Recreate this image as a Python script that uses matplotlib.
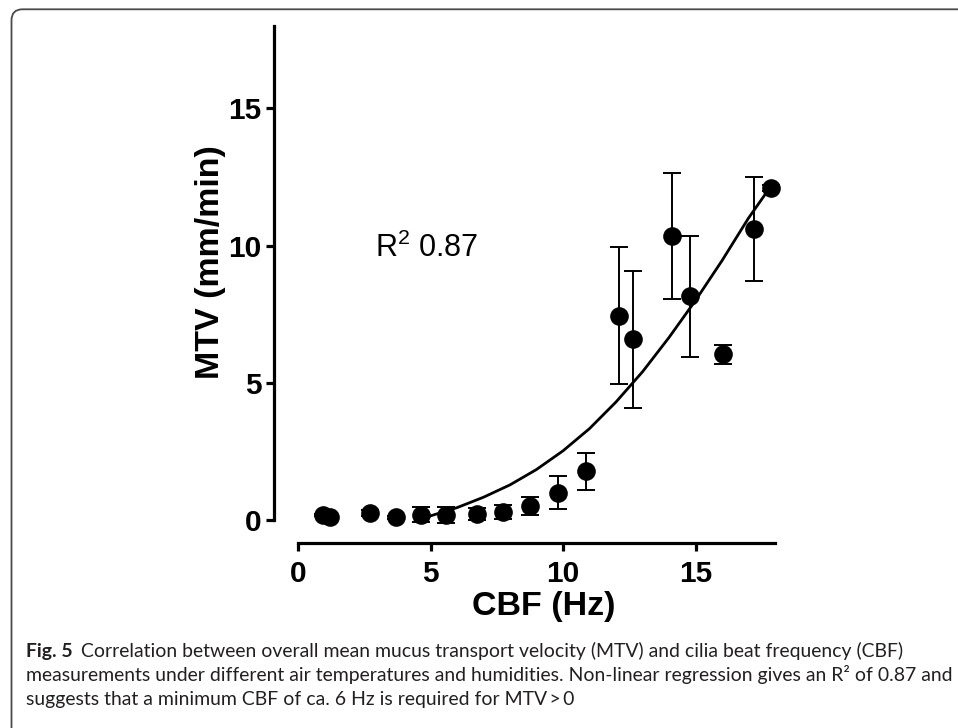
import matplotlib
matplotlib.use("Agg")
import matplotlib.pyplot as plt
from matplotlib.patches import FancyBboxPatch
from matplotlib.transforms import IdentityTransform
from matplotlib import font_manager

# ---- data ----
cbf = [0.94, 1.2, 2.7, 3.7, 4.65, 5.6, 6.75, 7.75, 8.75, 9.8, 10.85,
       12.1, 12.65, 14.1, 14.8, 16.05, 17.2, 17.85]
mtv = [0.18, 0.12, 0.25, 0.1, 0.2, 0.18, 0.22, 0.3, 0.52, 1.0, 1.78,
       7.45, 6.58, 10.36, 8.15, 6.04, 10.6, 12.1]
mtv_err = [0.05, 0.05, 0.1, 0.05, 0.28, 0.28, 0.22, 0.26, 0.33, 0.6, 0.67,
           2.5, 2.5, 2.3, 2.2, 0.35, 1.9, 0.1]

fit_x = [4.5, 5.0, 6.0, 7.0, 8.0, 9.0, 10.0, 11.0, 12.0, 13.0, 14.0,
         15.0, 16.0, 17.0, 17.8]
fit_y = [0.05, 0.15, 0.45, 0.83, 1.28, 1.84, 2.52, 3.33, 4.3, 5.4, 6.65,
         8.0, 9.45, 11.0, 12.1]

x_ticks = [0, 5, 10, 15]
y_ticks = [0, 5, 10, 15]
x_label = "CBF (Hz)"
y_label = "MTV (mm/min)"
r2_text = "R$^2$ 0.87"

caption_bold = "Fig. 5"
caption_lines = [
    "Correlation between overall mean mucus transport velocity (MTV) and cilia beat frequency (CBF)",
    "measurements under different air temperatures and humidities. Non-linear regression gives an R\u00b2 of 0.87 and",
    "suggests that a minimum CBF of ca. 6 Hz is required for MTV\u2009>\u20090",
]

W, H = 958, 728
plt.rcParams['font.family'] = ['Liberation Sans', 'DejaVu Sans']
plt.rcParams['mathtext.fontset'] = 'custom'
plt.rcParams['mathtext.rm'] = 'Liberation Sans'

installed = {f.name for f in font_manager.fontManager.ttflist}
cap_main = next((n for n in ['Liberation Sans Narrow', 'Lato', 'Noto Sans']
                 if n in installed), 'DejaVu Sans')
cap_font = [cap_main, 'DejaVu Sans']

fig = plt.figure(figsize=(W / 100, H / 100), dpi=100)
fig.patch.set_facecolor('white')

# axes placement (pixels from top-left)
ax_l, ax_r, ax_t, ax_b = 298, 775, 26, 520
ax = fig.add_axes([ax_l / W, (H - ax_b) / H, (ax_r - ax_l) / W, (ax_b - ax_t) / H])
ax.set_xlim(0, 18)
ax.set_ylim(0, 18)

ax.plot(fit_x, fit_y, color='black', lw=2.0, zorder=2, clip_on=False)
ax.errorbar(cbf, mtv, yerr=mtv_err, fmt='none', ecolor='black', elinewidth=1.4,
            capsize=6.2, capthick=1.4, zorder=3, clip_on=False)
ax.plot(cbf, mtv, 'o', color='black', markersize=12.4, zorder=4, clip_on=False)

for s in ['top', 'right']:
    ax.spines[s].set_visible(False)
ax.spines['left'].set_position(('outward', 17.3))
ax.spines['bottom'].set_position(('outward', 16.6))
ax.spines['left'].set_linewidth(2.3)
ax.spines['bottom'].set_linewidth(2.3)
ax.spines['left'].set_bounds(0, 18)
ax.spines['bottom'].set_bounds(0, 18)

ax.set_xticks(x_ticks)
ax.set_yticks(y_ticks)
ax.tick_params(axis='both', length=6, width=2.3, labelsize=21.5)
ax.tick_params(axis='y', pad=3)
ax.tick_params(axis='x', pad=6)
for lab in ax.get_xticklabels() + ax.get_yticklabels():
    lab.set_fontweight('bold')

ax.set_xlabel(x_label, fontsize=24.5, fontweight='bold')
ax.set_ylabel(y_label, fontsize=24.5, fontweight='bold')
ax.xaxis.set_label_coords((544 - ax_l) / (ax_r - ax_l), (H - 607 - (H - ax_b)) / (ax_b - ax_t))
ax.xaxis.label.set_va('center')
ax.yaxis.set_label_coords((210 - ax_l) / (ax_r - ax_l), (H - 262 - (H - ax_b)) / (ax_b - ax_t))
ax.yaxis.label.set_va('center')

ax.text(2.91, 9.9, r2_text, fontsize=22, va='center', ha='left')

# frame around the figure
frame = FancyBboxPatch((11.5, -60), 1100, (H - 9.3) + 60,
                       boxstyle="round,pad=0,rounding_size=11",
                       transform=IdentityTransform(), facecolor='none',
                       edgecolor='#4a4a4a', linewidth=1.3, zorder=0)
fig.add_artist(frame)

# caption
cap_color = '#231f20'
fig.canvas.draw()
renderer = fig.canvas.get_renderer()

fs = 13.0
probe = fig.text(26 / W, 0.5, caption_lines[1], fontsize=fs, family=cap_font)
wpx = probe.get_window_extent(renderer).width
probe.remove()
fs = fs * (924.0 / wpx)

baselines = [657, 681, 705]
tb = fig.text(26 / W, (H - baselines[0]) / H, caption_bold, fontsize=fs,
              fontweight='bold', family=cap_font, va='baseline', color=cap_color)
bw = tb.get_window_extent(renderer).width
fig.text((26 + bw + 8) / W, (H - baselines[0]) / H, caption_lines[0], fontsize=fs,
         family=cap_font, va='baseline', color=cap_color)
for i in (1, 2):
    fig.text(26 / W, (H - baselines[i]) / H, caption_lines[i], fontsize=fs,
             family=cap_font, va='baseline', color=cap_color)

fig.savefig('out.png', dpi=100)
